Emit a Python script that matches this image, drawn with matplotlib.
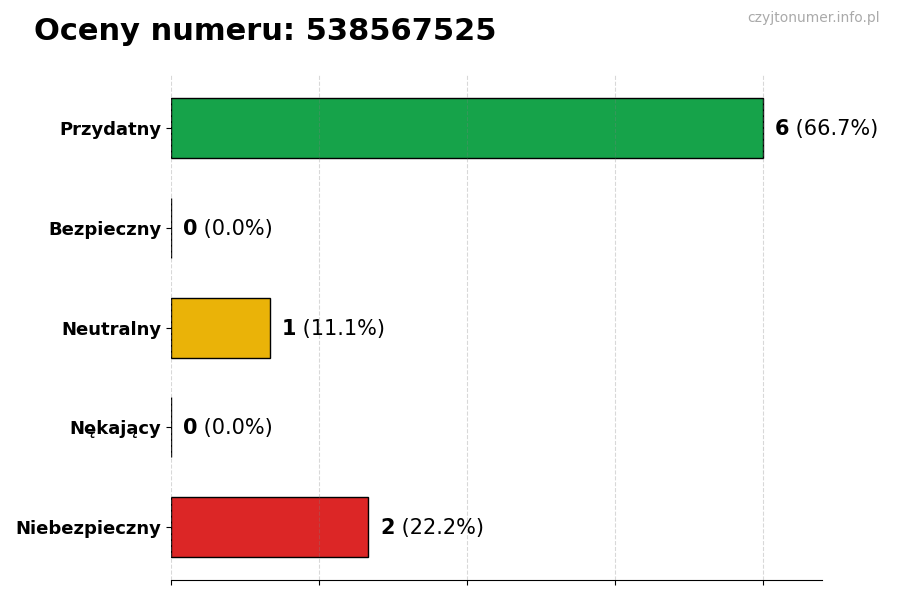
import matplotlib
matplotlib.use("Agg")
import matplotlib.pyplot as plt

# Ratings data
categories = ["Przydatny", "Bezpieczny", "Neutralny", "Nękający", "Niebezpieczny"]
counts = [6, 0, 1, 0, 2]
colors = ["#16a34a", "#8a8a8a", "#eab308", "#8a8a8a", "#dc2626"]
x_ticks = [0, 1.5, 3, 4.5, 6]

total = sum(counts)

fig = plt.figure(figsize=(9, 6), dpi=100)
ax = fig.add_axes([0.19, 0.033, 0.723, 0.842])

ax.barh(categories, counts, height=0.6, color=colors, edgecolor="black",
        linewidth=1, zorder=2)
ax.invert_yaxis()

ax.set_xlim(0, max(counts) * 1.1)
ax.set_xticks(x_ticks)
ax.set_xticklabels([])
ax.grid(axis="x", linestyle="--", color="gray", alpha=0.3, linewidth=0.8, zorder=3)
ax.set_axisbelow(False)

for side in ["top", "right", "left"]:
    ax.spines[side].set_visible(False)

for lbl in ax.get_yticklabels():
    lbl.set_fontweight("bold")
    lbl.set_fontsize(13)

# value labels: bold count + normal percentage
for i, c in enumerate(counts):
    pct = c / total * 100
    t = ax.text(c + 0.12, i + 0.01, str(c), fontsize=15, fontweight="bold",
                va="center", ha="left")
    ax.annotate(f" ({pct:.1f}%)", xy=(1, 0.5), xycoords=t, fontsize=15,
                va="center", ha="left")

fig.text(0.038, 0.948, "Oceny numeru: 538567525", fontsize=22,
         fontweight="bold", va="center", ha="left")
fig.text(0.978, 0.97, "czyjtonumer.info.pl", fontsize=10, color="#aaaaaa",
         va="center", ha="right")

fig.savefig("out.png", dpi=100)
